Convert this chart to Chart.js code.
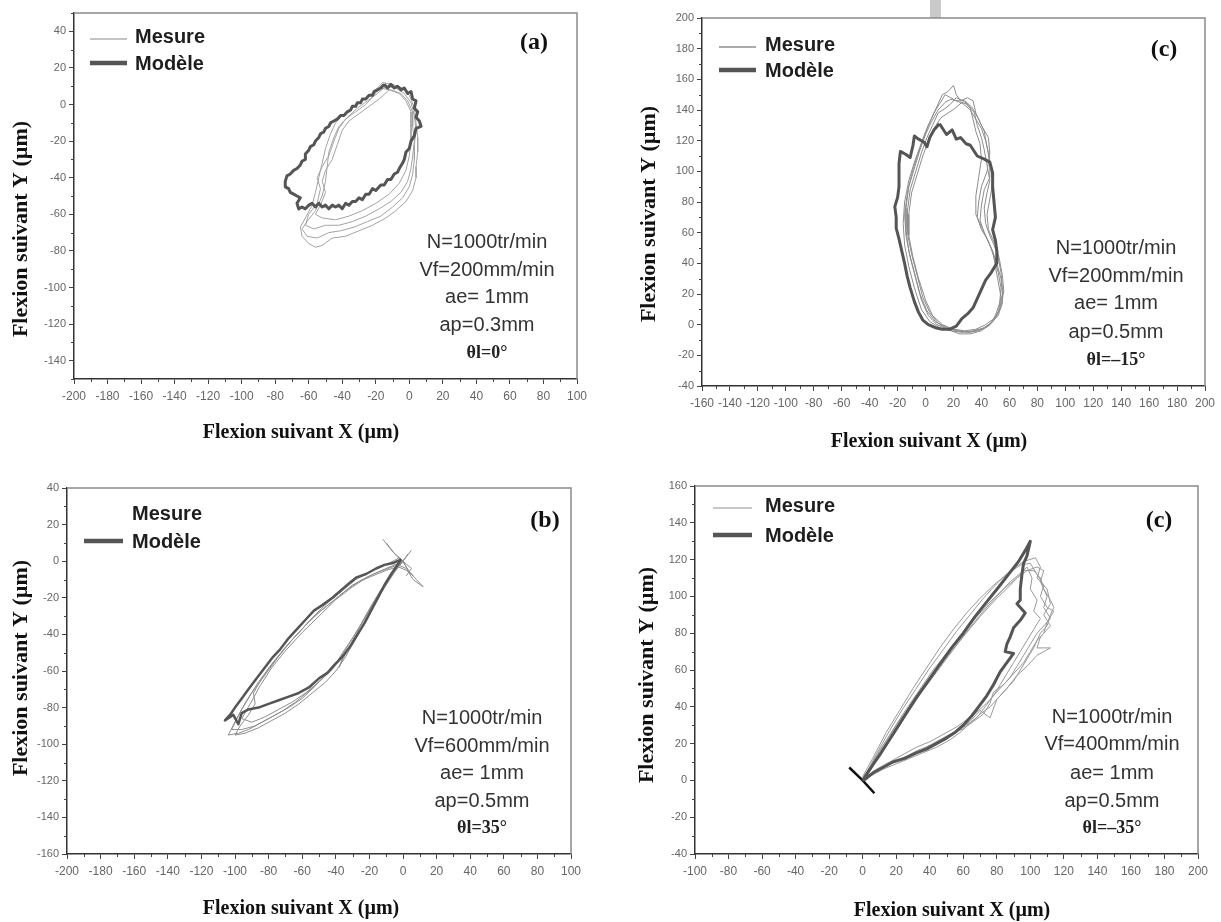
<!DOCTYPE html>
<html>
<head>
<meta charset="utf-8">
<title>Flexion de l'outil</title>
<script src="https://cdn.jsdelivr.net/npm/chart.js@4.4.0/dist/chart.umd.min.js"></script>
<style>
  html, body { margin: 0; padding: 0; background: #fff; }
  body { width: 1221px; height: 922px; position: relative; overflow: hidden; }
  canvas { position: absolute; }
  #marque { position: absolute; left: 930px; top: 0; width: 11px; height: 18px; background: #c9c9c9; }
</style>
</head>
<body>
<div id="marque"></div>
<canvas id="panel-a" width="610" height="461" style="left:0;top:0"></canvas>
<canvas id="panel-c1" width="611" height="461" style="left:610px;top:0"></canvas>
<canvas id="panel-b" width="610" height="461" style="left:0;top:461px"></canvas>
<canvas id="panel-c2" width="611" height="461" style="left:610px;top:461px"></canvas>
<script>
// ---- Tick values ----
const xTicksA = [-200, -180, -160, -140, -120, -100, -80, -60, -40, -20, 0, 20, 40, 60, 80, 100];
const yTicksA = [-140, -120, -100, -80, -60, -40, -20, 0, 20, 40];
const xTicksC1 = [-160, -140, -120, -100, -80, -60, -40, -20, 0, 20, 40, 60, 80, 100, 120, 140, 160, 180, 200];
const yTicksC1 = [-40, -20, 0, 20, 40, 60, 80, 100, 120, 140, 160, 180, 200];
const xTicksB = [-200, -180, -160, -140, -120, -100, -80, -60, -40, -20, 0, 20, 40, 60, 80, 100];
const yTicksB = [-160, -140, -120, -100, -80, -60, -40, -20, 0, 20, 40];
const xTicksC2 = [-100, -80, -60, -40, -20, 0, 20, 40, 60, 80, 100, 120, 140, 160, 180, 200];
const yTicksC2 = [-40, -20, 0, 20, 40, 60, 80, 100, 120, 140, 160];

// ---- Cutting conditions ----
const paramsA = ['N=1000tr/min', 'Vf=200mm/min', 'ae= 1mm', 'ap=0.3mm'];
const angleA = 'θl=0°';
const paramsC1 = ['N=1000tr/min', 'Vf=200mm/min', 'ae= 1mm', 'ap=0.5mm'];
const angleC1 = 'θl=–15°';
const paramsB = ['N=1000tr/min', 'Vf=600mm/min', 'ae= 1mm', 'ap=0.5mm'];
const angleB = 'θl=35°';
const paramsC2 = ['N=1000tr/min', 'Vf=400mm/min', 'ae= 1mm', 'ap=0.5mm'];
const angleC2 = 'θl=–35°';

// ---- (a) thetal = 0 : model + measured revolutions [x, y] in µm ----
const modeleA = [[-15, 11], [-13, 9], [-11, 11], [-9, 9], [-7, 10], [-5, 8], [-3, 9], [-1, 6], [1, 7], [2, 3], [4, 2], [3, -2],
  [5, -4], [4, -7], [6, -9], [7, -12], [4, -13], [3, -17], [1, -20], [0, -24], [-2, -26], [-3, -30], [-4, -32], [-6, -35],
  [-7, -37], [-9, -38], [-11, -41], [-13, -41], [-15, -44], [-17, -44], [-20, -47], [-22, -46], [-24, -49], [-26, -49],
  [-28, -52], [-30, -51], [-32, -53], [-34, -53], [-36, -55], [-38, -54], [-40, -57], [-42, -55], [-44, -56], [-46, -55],
  [-48, -57], [-50, -55], [-52, -56], [-54, -54], [-56, -56], [-58, -54], [-60, -55], [-62, -57], [-64, -56], [-66, -57],
  [-67, -54], [-65, -51], [-67, -50], [-69, -49], [-71, -48], [-72, -46], [-74, -45], [-74, -42], [-73, -39], [-71, -38],
  [-69, -36], [-67, -35], [-65, -33], [-64, -31], [-62, -30], [-62, -27], [-60, -25], [-59, -23], [-57, -22], [-56, -20],
  [-54, -18], [-53, -16], [-51, -15], [-50, -13], [-48, -12], [-47, -10], [-45, -9], [-43, -8], [-41, -6], [-39, -6],
  [-37, -4], [-35, -3], [-34, -1], [-32, -1], [-31, 1], [-29, 1], [-28, 3], [-26, 3], [-24, 5], [-22, 5], [-21, 7],
  [-19, 8], [-17, 9], [-15, 11]];
const mesureA1 = [[-16, 12], [-10, 11], [-4, 9], [0, 5], [3, -2], [4, -10], [5, -18], [5, -26], [4, -34], [4, -40], [2, -47],
  [-2, -53], [-8, -58], [-14, -62], [-22, -66], [-30, -69], [-38, -72], [-46, -73], [-52, -77], [-56, -78], [-60, -76],
  [-64, -72], [-65, -67], [-62, -62], [-58, -55], [-56, -48], [-54, -40], [-52, -32], [-50, -24], [-47, -16], [-44, -10],
  [-40, -6], [-34, -2], [-28, 2], [-22, 6], [-16, 12]];
const mesureA2 = [[-14, 10], [-8, 9], [-3, 6], [1, 1], [3, -6], [4, -14], [3, -22], [3, -30], [2, -38], [0, -45], [-4, -51],
  [-10, -56], [-17, -61], [-25, -64], [-33, -67], [-41, -69], [-48, -70], [-55, -73], [-61, -72], [-64, -68], [-61, -64],
  [-56, -58], [-52, -50], [-50, -42], [-49, -34], [-48, -26], [-45, -18], [-42, -12], [-37, -7], [-31, -2], [-25, 2], [-19, 6], [-14, 10]];
const mesureA3 = [[-18, 9], [-11, 8], [-5, 6], [-1, 2], [2, -4], [2, -12], [3, -20], [2, -28], [1, -35], [-1, -42], [-5, -48],
  [-11, -53], [-18, -57], [-26, -61], [-34, -64], [-42, -66], [-50, -66], [-57, -68], [-62, -66], [-60, -60], [-55, -54],
  [-53, -46], [-55, -40], [-52, -34], [-48, -28], [-45, -20], [-42, -13], [-38, -8], [-32, -4], [-26, 0], [-22, 4], [-18, 9]];
const mesureA4 = [[-12, 8], [-6, 6], [-2, 2], [1, -4], [1, -12], [1, -20], [0, -28], [-2, -36], [-6, -43], [-12, -49], [-20, -54],
  [-28, -58], [-36, -61], [-44, -63], [-52, -62], [-56, -60], [-53, -55], [-50, -48], [-52, -42], [-50, -36], [-46, -30],
  [-43, -22], [-40, -14], [-36, -9], [-30, -5], [-24, -1], [-18, 3], [-12, 8]];

// ---- (c) thetal = -15 ----
const modeleC1 = [[10, 131], [15, 124], [19, 127], [22, 121], [25, 122], [29, 118], [32, 117], [37, 110], [42, 108], [46, 106],
  [48, 99], [48, 90], [49, 80], [50, 70], [48, 62], [50, 55], [51, 48], [51, 40], [47, 34], [43, 29], [40, 23], [37, 17], [34, 11],
  [30, 7], [26, 4], [22, -1], [17, -3], [12, -3], [7, -2], [2, 0], [-2, 3], [-5, 8], [-8, 15], [-11, 24], [-13, 31], [-15, 40],
  [-17, 48], [-19, 56], [-21, 63], [-21, 70], [-22, 77], [-20, 83], [-19, 90], [-19, 98], [-19, 105], [-18, 113], [-14, 111],
  [-11, 109], [-9, 117], [-8, 123], [-5, 121], [-1, 119], [1, 116], [3, 122], [6, 127], [10, 131]];
const mesureC1a = [[20, 156], [16, 152], [12, 150], [8, 142], [4, 134], [0, 126], [-4, 116], [-8, 106], [-12, 94], [-15, 80],
  [-16, 66], [-15, 52], [-12, 38], [-8, 24], [-3, 10], [3, 2], [10, -2], [18, -4], [26, -5], [34, -4], [42, -2], [48, 2], [52, 8],
  [54, 18], [52, 28], [50, 38], [48, 48], [44, 56], [40, 62], [37, 70], [38, 80], [40, 90], [44, 100], [46, 112], [45, 122],
  [40, 130], [36, 138], [34, 146], [30, 148], [25, 146], [22, 150], [20, 156]];
const mesureC1b = [[14, 150], [10, 144], [6, 138], [2, 130], [-2, 120], [-6, 110], [-10, 98], [-13, 86], [-15, 72], [-14, 58],
  [-11, 44], [-7, 30], [-3, 16], [2, 6], [8, 0], [16, -3], [24, -6], [32, -6], [40, -4], [46, 0], [50, 6], [53, 14], [54, 24],
  [52, 34], [49, 44], [46, 52], [42, 60], [39, 68], [40, 78], [42, 88], [46, 96], [46, 106], [44, 116], [42, 126], [38, 134],
  [33, 142], [28, 146], [22, 146], [18, 148], [14, 150]];
const mesureC1c = [[22, 148], [18, 144], [14, 141], [9, 138], [5, 130], [1, 122], [-3, 112], [-7, 100], [-11, 88], [-13, 74],
  [-13, 60], [-10, 46], [-6, 32], [-2, 18], [3, 8], [9, 1], [16, -2], [24, -4], [32, -5], [40, -3], [47, 1], [52, 6], [55, 14],
  [55, 24], [54, 34], [52, 44], [49, 52], [46, 58], [43, 66], [42, 76], [44, 86], [46, 94], [44, 104], [42, 114], [40, 122],
  [37, 130], [35, 138], [31, 143], [27, 146], [22, 148]];
const mesureC1d = [[26, 145], [21, 141], [16, 138], [11, 135], [6, 128], [2, 120], [-2, 110], [-6, 98], [-10, 86], [-12, 72],
  [-12, 58], [-9, 44], [-5, 30], [0, 16], [5, 6], [12, 0], [20, -3], [28, -4], [36, -3], [43, 0], [49, 4], [53, 10], [55, 20],
  [54, 30], [51, 40], [48, 48], [45, 54], [41, 62], [36, 72], [36, 84], [38, 96], [40, 108], [39, 118], [36, 126], [34, 134],
  [32, 141], [29, 144], [26, 145]];
const mesureC1e = [[18, 147], [14, 145], [9, 140], [4, 132], [0, 124], [-4, 114], [-8, 102], [-12, 90], [-14, 76], [-14, 62],
  [-12, 48], [-8, 34], [-4, 20], [1, 9], [7, 2], [14, -2], [22, -4], [30, -5], [38, -4], [45, -1], [50, 4], [54, 12], [56, 22],
  [55, 32], [53, 42], [51, 50], [48, 56], [45, 62], [44, 72], [46, 82], [48, 92], [47, 102], [45, 112], [43, 120], [40, 128],
  [36, 134], [32, 140], [27, 144], [22, 146], [18, 147]];

// ---- (b) thetal = 35 ----
const modeleB = [[-1, 1], [-6, -1], [-11, -2], [-16, -4], [-22, -7], [-28, -9], [-32, -12], [-37, -16], [-42, -20], [-48, -24],
  [-53, -27], [-58, -32], [-63, -37], [-68, -42], [-73, -48], [-78, -53], [-83, -59], [-88, -65], [-92, -70], [-96, -75],
  [-100, -80], [-103, -84], [-106, -87], [-101, -84], [-98, -89], [-96, -83], [-92, -81], [-86, -80], [-80, -78], [-74, -76],
  [-68, -74], [-62, -72], [-56, -69], [-50, -64], [-45, -61], [-40, -56], [-35, -51], [-31, -46], [-27, -40], [-23, -34],
  [-19, -27], [-15, -20], [-11, -13], [-7, -7], [-4, -3], [-1, 1]];
const mesureB1 = [[-12, 12], [-6, 5], [-1, 1], [4, -6], [8, -10], [12, -14], [6, -10], [2, -4], [-3, -2], [-9, -4], [-15, -6],
  [-22, -9], [-30, -13], [-38, -19], [-46, -25], [-54, -31], [-62, -39], [-70, -47], [-78, -56], [-86, -66], [-93, -76],
  [-99, -86], [-104, -95], [-98, -94], [-92, -92], [-84, -88], [-76, -84], [-68, -80], [-60, -75], [-52, -68], [-45, -61],
  [-38, -54], [-32, -45], [-26, -36], [-20, -26], [-14, -17], [-8, -9], [-3, -3], [0, 0], [5, 6]];
const mesureB2 = [[-10, 10], [-4, 3], [0, 0], [3, -5], [6, -8], [2, -5], [-3, -3], [-10, -5], [-18, -8], [-26, -11], [-34, -16],
  [-42, -22], [-50, -28], [-58, -35], [-66, -43], [-74, -52], [-82, -62], [-90, -72], [-96, -81], [-102, -92], [-96, -92],
  [-88, -90], [-80, -86], [-72, -82], [-64, -77], [-56, -71], [-48, -64], [-41, -56], [-36, -53], [-38, -58], [-34, -50],
  [-28, -40], [-22, -30], [-16, -20], [-10, -11], [-4, -4], [0, 0]];
const mesureB3 = [[-2, 2], [-8, -1], [-14, -3], [-20, -6], [-28, -10], [-36, -16], [-44, -22], [-52, -29], [-60, -37], [-68, -45],
  [-76, -54], [-84, -64], [-89, -72], [-88, -78], [-92, -84], [-97, -90], [-100, -95], [-94, -94], [-86, -91], [-78, -87],
  [-70, -83], [-62, -78], [-54, -72], [-46, -66], [-40, -60], [-34, -52], [-28, -42], [-22, -32], [-16, -22], [-10, -13],
  [-5, -6], [-1, -1], [3, 4]];
const mesureB4 = [[0, 0], [-10, -4], [-20, -8], [-30, -14], [-40, -21], [-50, -30], [-60, -39], [-70, -49], [-78, -58], [-85, -68],
  [-91, -78], [-96, -86], [-90, -88], [-82, -85], [-74, -81], [-66, -77], [-58, -72], [-50, -66], [-42, -59], [-36, -50],
  [-30, -42], [-24, -33], [-18, -24], [-12, -15], [-6, -7], [0, 0], [5, -4], [2, -8]];

// ---- (c) thetal = -35 ----
const modeleC2 = [[0, 0], [5, 7], [11, 15], [18, 25], [25, 35], [32, 45], [39, 54], [46, 63], [53, 72], [60, 80], [67, 89],
  [74, 97], [81, 105], [87, 112], [93, 119], [97, 125], [100, 130], [98, 122], [96, 118], [95, 112], [94, 104], [94, 98],
  [92, 96], [97, 91], [94, 87], [90, 83], [88, 78], [86, 74], [85, 70], [90, 69], [86, 64], [82, 59], [78, 52], [74, 46],
  [70, 41], [65, 35], [60, 30], [55, 26], [50, 23], [44, 20], [38, 17], [32, 15], [25, 12], [18, 10], [12, 7], [6, 4], [2, 1], [0, 0]];
const pointeC2 = [[-8, 7], [0, 0], [7, -7]];
const mesureC2a = [[0, 0], [8, 14], [16, 27], [24, 39], [32, 50], [40, 61], [48, 71], [56, 81], [64, 90], [72, 99], [80, 107],
  [88, 114], [96, 119], [103, 121], [106, 116], [104, 110], [110, 104], [112, 96], [108, 90], [112, 84], [106, 78], [104, 72],
  [112, 72], [104, 68], [98, 62], [92, 57], [86, 50], [80, 44], [76, 34], [70, 38], [64, 32], [58, 28], [50, 24], [42, 20],
  [34, 16], [26, 13], [18, 10], [10, 6], [4, 2], [0, 0]];
const mesureC2b = [[0, 2], [6, 12], [14, 26], [22, 38], [30, 50], [38, 61], [46, 72], [54, 82], [62, 91], [70, 99], [78, 106],
  [86, 112], [94, 117], [100, 118], [104, 112], [108, 106], [106, 100], [110, 94], [114, 92], [110, 86], [108, 80], [104, 76],
  [100, 70], [96, 64], [90, 58], [86, 54], [80, 48], [74, 42], [68, 37], [62, 33], [56, 29], [48, 25], [40, 21], [32, 18],
  [24, 14], [16, 10], [8, 6], [2, 2]];
const mesureC2c = [[0, 0], [10, 16], [20, 30], [30, 43], [40, 55], [50, 67], [60, 78], [70, 89], [80, 99], [88, 106], [94, 112],
  [98, 116], [101, 110], [100, 104], [104, 98], [102, 92], [106, 88], [102, 82], [98, 76], [94, 70], [90, 64], [86, 58],
  [82, 52], [78, 46], [73, 40], [68, 34], [62, 30], [55, 26], [48, 22], [40, 19], [32, 16], [24, 12], [16, 9], [8, 5], [2, 1]];
const mesureC2d = [[0, 1], [7, 11], [15, 23], [24, 36], [33, 48], [42, 60], [51, 70], [60, 80], [68, 89], [76, 97], [84, 104],
  [92, 110], [98, 114], [104, 116], [108, 114], [106, 108], [110, 100], [108, 94], [112, 88], [108, 84], [104, 80], [100, 74],
  [96, 68], [92, 62], [88, 56], [84, 52], [78, 48], [76, 42], [72, 36], [66, 32], [60, 28], [54, 26], [46, 22], [38, 18],
  [30, 14], [22, 11], [14, 8], [6, 4], [0, 1]];
const mesureC2e = [[1, 0], [9, 12], [18, 24], [27, 37], [36, 49], [45, 60], [54, 71], [63, 82], [72, 92], [80, 100], [88, 108],
  [96, 114], [102, 114], [106, 110], [108, 104], [112, 98], [114, 94], [112, 90], [110, 84], [106, 80], [104, 76], [102, 72],
  [98, 66], [94, 60], [90, 54], [84, 48], [80, 44], [76, 40], [70, 36], [64, 31], [58, 26], [52, 22], [44, 18], [36, 15],
  [28, 12], [20, 9], [12, 6], [4, 2], [1, 0]];

const SANS = '"Liberation Sans", Arial, sans-serif';
const SERIF = '"Liberation Serif", "Times New Roman", serif';

function pts(arr) {
    return arr.map(([x, y]) => ({ x, y }));
}

// Draws frame, minor ticks, legend, panel tag, conditions and axis titles
function makeDecor(lay) {
    return {
        id: 'decor',
        afterDraw(chart) {
            const ctx = chart.ctx;
            const area = chart.chartArea;
            const xs = chart.scales.x;
            const ys = chart.scales.y;
            ctx.save();

            // top / right frame
            ctx.strokeStyle = '#8a8a8a';
            ctx.lineWidth = 1.5;
            ctx.beginPath();
            ctx.moveTo(area.left, area.top);
            ctx.lineTo(area.right, area.top);
            ctx.lineTo(area.right, area.bottom);
            ctx.stroke();

            // minor ticks halfway between the labelled ones
            ctx.strokeStyle = '#444';
            ctx.lineWidth = 1;
            ctx.beginPath();
            for (let v = xs.min + 10; v < xs.max; v += 20) {
                if (v % 20 === 0) continue;
                const px = Math.round(xs.getPixelForValue(v)) + 0.5;
                ctx.moveTo(px, area.bottom);
                ctx.lineTo(px, area.bottom + 3);
            }
            for (let v = ys.min; v <= ys.max; v += 10) {
                if (v % 20 === 0) continue;
                const py = Math.round(ys.getPixelForValue(v)) + 0.5;
                ctx.moveTo(area.left - 3, py);
                ctx.lineTo(area.left, py);
            }
            ctx.stroke();

            // legend
            ctx.lineCap = 'butt';
            if (lay.legend.mesureLine) {
                ctx.strokeStyle = lay.legend.mesureColor;
                ctx.lineWidth = 2;
                ctx.beginPath();
                ctx.moveTo(lay.legend.x1, lay.legend.yMesure + 2);
                ctx.lineTo(lay.legend.x2, lay.legend.yMesure + 2);
                ctx.stroke();
            }
            ctx.strokeStyle = '#555';
            ctx.lineWidth = 4.5;
            ctx.beginPath();
            ctx.moveTo(lay.legend.x1, lay.legend.yModele);
            ctx.lineTo(lay.legend.x2, lay.legend.yModele);
            ctx.stroke();
            ctx.fillStyle = '#1e1e1e';
            ctx.font = 'bold 20px ' + SANS;
            ctx.textAlign = 'left';
            ctx.textBaseline = 'middle';
            ctx.fillText('Mesure', lay.legend.tx, lay.legend.yMesure);
            ctx.fillText('Modèle', lay.legend.tx, lay.legend.yModele + 1);

            // panel tag
            ctx.font = 'bold 24px ' + SERIF;
            ctx.textAlign = 'center';
            ctx.fillStyle = '#111';
            ctx.fillText(lay.tag, lay.tagX, lay.tagY);

            // cutting conditions
            ctx.font = '20px ' + SANS;
            ctx.fillStyle = '#333';
            lay.params.forEach((s, i) => ctx.fillText(s, lay.cx, lay.py[i]));
            ctx.font = 'bold 18px ' + SERIF;
            ctx.fillStyle = '#222';
            ctx.fillText(lay.angle, lay.cx, lay.py[4]);

            // axis titles
            ctx.fillStyle = '#111';
            ctx.font = 'bold 20px ' + SERIF;
            ctx.fillText('Flexion suivant X (µm)', lay.xTitle[0], lay.xTitle[1]);
            ctx.save();
            ctx.translate(lay.yTitle[0], lay.yTitle[1]);
            ctx.rotate(-Math.PI / 2);
            ctx.font = 'bold 22px ' + SERIF;
            ctx.fillText('Flexion suivant Y (µm)', 0, 0);
            ctx.restore();

            ctx.restore();
        }
    };
}

function makePanel(id, p) {
    const datasets = [];
    datasets.push({
        label: 'Modèle',
        data: pts(p.modele),
        borderColor: '#555',
        borderWidth: p.modeleWidth || 3,
        borderJoinStyle: 'round'
    });
    if (p.extra) {
        datasets.push({ label: 'Modèle', data: pts(p.extra), borderColor: '#111', borderWidth: 2.5 });
    }
    p.mesures.forEach(m => {
        datasets.push({
            label: 'Mesure',
            data: pts(m),
            borderColor: p.mesureColor,
            borderWidth: 1
        });
    });

    const tickStyle = {
        font: { family: SANS, size: 11 },
        color: '#666',
        autoSkip: false,
        maxRotation: 0,
        padding: 3
    };

    return new Chart(document.getElementById(id), {
        type: 'scatter',
        data: { datasets },
        options: {
            responsive: false,
            animation: false,
            devicePixelRatio: 1,
            showLine: true,
            elements: { point: { radius: 0 }, line: { tension: 0, fill: false } },
            layout: { padding: { top: p.padTop, right: p.padRight, left: 0, bottom: 0 } },
            plugins: { legend: { display: false }, tooltip: { enabled: false } },
            scales: {
                x: {
                    type: 'linear',
                    min: p.xMin,
                    max: p.xMax,
                    afterBuildTicks: s => { s.ticks = p.xTicks.map(v => ({ value: v })); },
                    afterFit: s => { s.height = p.xH; },
                    ticks: Object.assign({}, tickStyle, { font: { family: SANS, size: 12 }, padding: 5 }),
                    grid: { drawOnChartArea: false, tickLength: 5, tickColor: '#444', tickWidth: 1 },
                    border: { color: '#333', width: 1.5 }
                },
                y: {
                    type: 'linear',
                    min: p.yMin,
                    max: p.yMax,
                    afterBuildTicks: s => { s.ticks = p.yTicks.map(v => ({ value: v })); },
                    afterFit: s => { s.width = p.yW; },
                    ticks: tickStyle,
                    grid: { drawOnChartArea: false, tickLength: 5, tickColor: '#444', tickWidth: 1 },
                    border: { color: '#333', width: 1.5 }
                }
            }
        },
        plugins: [makeDecor(p.lay)]
    });
}

// (a)
makePanel('panel-a', {
    modele: modeleA, mesures: [mesureA1, mesureA2, mesureA3, mesureA4], mesureColor: '#a3a3a3',
    xMin: -200, xMax: 100, yMin: -150, yMax: 50, xTicks: xTicksA, yTicks: yTicksA,
    yW: 74, xH: 82, padTop: 13, padRight: 33,
    lay: {
        legend: { mesureLine: true, mesureColor: '#c4c4c4', x1: 90, x2: 127, tx: 135, yMesure: 37, yModele: 63 },
        tag: '(a)', tagX: 534, tagY: 43,
        params: paramsA, angle: angleA, cx: 487, py: [242, 270, 297, 325, 353],
        xTitle: [301, 433], yTitle: [21, 229]
    }
});

// (c) thetal = -15
makePanel('panel-c1', {
    modele: modeleC1, mesures: [mesureC1a, mesureC1b, mesureC1c, mesureC1d, mesureC1e], mesureColor: '#8c8c8c',
    xMin: -160, xMax: 200, yMin: -40, yMax: 200, xTicks: xTicksC1, yTicks: yTicksC1,
    yW: 92, xH: 75, padTop: 18, padRight: 16,
    lay: {
        legend: { mesureLine: true, mesureColor: '#aaa', x1: 109, x2: 146, tx: 155, yMesure: 45, yModele: 70 },
        tag: '(c)', tagX: 554, tagY: 50,
        params: paramsC1, angle: angleC1, cx: 506, py: [248, 276, 303, 332, 360],
        xTitle: [319, 442], yTitle: [39, 214]
    }
});

// (b)
makePanel('panel-b', {
    modele: modeleB, mesures: [mesureB1, mesureB2, mesureB3, mesureB4], mesureColor: '#8e8e8e', modeleWidth: 2.5,
    xMin: -200, xMax: 100, yMin: -160, yMax: 40, xTicks: xTicksB, yTicks: yTicksB,
    yW: 67, xH: 68, padTop: 27, padRight: 39,
    lay: {
        legend: { mesureLine: false, x1: 84, x2: 123, tx: 132, yMesure: 53, yModele: 80 },
        tag: '(b)', tagX: 545, tagY: 60,
        params: paramsB, angle: angleB, cx: 482, py: [257, 285, 312, 340, 367],
        xTitle: [301, 448], yTitle: [21, 207]
    }
});

// (c) thetal = -35
makePanel('panel-c2', {
    modele: modeleC2, extra: pointeC2, mesures: [mesureC2a, mesureC2b, mesureC2c, mesureC2d, mesureC2e], mesureColor: '#999',
    xMin: -100, xMax: 200, yMin: -40, yMax: 160, xTicks: xTicksC2, yTicks: yTicksC2,
    yW: 85, xH: 68, padTop: 25, padRight: 23,
    lay: {
        legend: { mesureLine: true, mesureColor: '#c8c8c8', x1: 103, x2: 142, tx: 155, yMesure: 45, yModele: 74 },
        tag: '(c)', tagX: 549, tagY: 60,
        params: paramsC2, angle: angleC2, cx: 502, py: [256, 283, 312, 340, 367],
        xTitle: [342, 450], yTitle: [37, 214]
    }
});
</script>
</body>
</html>
